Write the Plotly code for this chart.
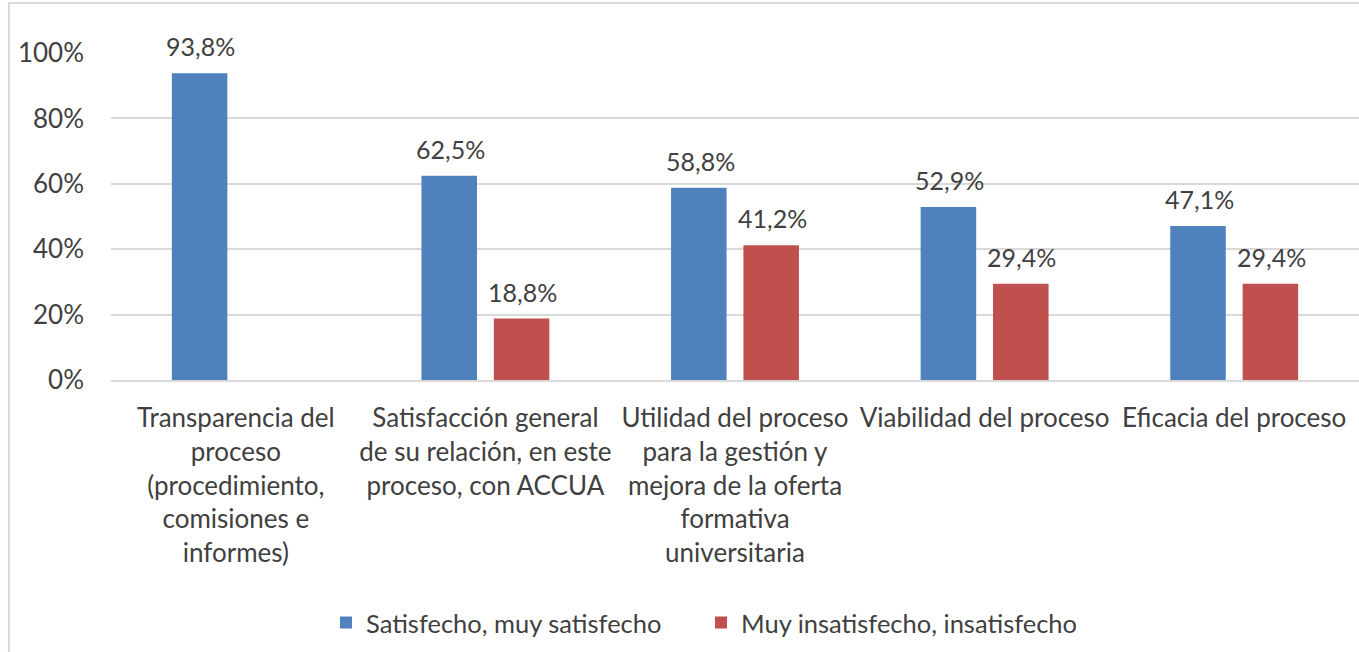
import plotly.graph_objects as go

categories = [
    "Transparencia del<br>proceso<br>(procedimiento,<br>comisiones e<br>informes)",
    "Satisfacción general<br>de su relación, en este<br>proceso, con ACCUA",
    "Utilidad del proceso<br>para la gestión y<br>mejora de la oferta<br>formativa<br>universitaria",
    "Viabilidad del proceso",
    "Eficacia del proceso",
]
satisfechos = [0.938, 0.625, 0.588, 0.529, 0.471]
insatisfechos = [None, 0.188, 0.412, 0.294, 0.294]
series_names = ["Satisfecho, muy satisfecho", "Muy insatisfecho, insatisfecho"]
y_ticks = [0, 0.2, 0.4, 0.6, 0.8, 1.0]

colors = ["#4F81BD", "#C0504D"]
FONT = "Lato"
TXT = "#404040"

def fmt(v):
    return f"{v*100:.1f}%".replace(".", ",")

fig = go.Figure()
for name, vals, col in zip(series_names, [satisfechos, insatisfechos], colors):
    fig.add_trace(go.Bar(x=categories, y=vals, name=name, marker=dict(color=col, line=dict(width=0))))

annotations = []
for vals, shift in zip([satisfechos, insatisfechos], [-35, 37]):
    for c, v in zip(categories, vals):
        if v is None:
            continue
        annotations.append(dict(x=c, y=v, xref="x", yref="y", text=fmt(v), showarrow=False,
                                xshift=shift, yshift=10, yanchor="bottom",
                                font=dict(family=FONT, size=25, color=TXT)))

fig.update_layout(
    width=1359, height=652,
    margin=dict(l=111, r=0, t=53, b=272, autoexpand=False),
    paper_bgcolor="white", plot_bgcolor="white",
    barmode="group", bargap=0.42, bargroupgap=0.233,
    font=dict(family=FONT, color=TXT),
    annotations=annotations,
    showlegend=True,
    legend=dict(orientation="h", xref="container", x=326 / 1359, xanchor="left",
                yref="container", y=1 - 623 / 652, yanchor="middle",
                font=dict(family=FONT, size=25.5, color=TXT), itemwidth=30,
                entrywidth=330, traceorder="normal"),
    xaxis=dict(showgrid=False, showline=True, linecolor="#d9d9d9", linewidth=1.5,
               tickfont=dict(family=FONT, size=26, color=TXT), ticklabelstandoff=14,
               zeroline=False),
    yaxis=dict(range=[0, 1], tickvals=y_ticks, tickformat=".0%", showgrid=True,
               gridcolor="#d9d9d9", gridwidth=1.5, zeroline=False, showline=False,
               tickfont=dict(family=FONT, size=26, color=TXT), ticklabelstandoff=26),
    shapes=[dict(type="rect", xref="paper", yref="paper", x0=-0.0818, x1=1.02, y0=-0.9, y1=1.153,
                 line=dict(color="#d9d9d9", width=2), fillcolor="rgba(0,0,0,0)", layer="below")],
)

fig.write_html("out.html", config={"displayModeBar": False},
               post_script="document.body.style.margin='0';")
